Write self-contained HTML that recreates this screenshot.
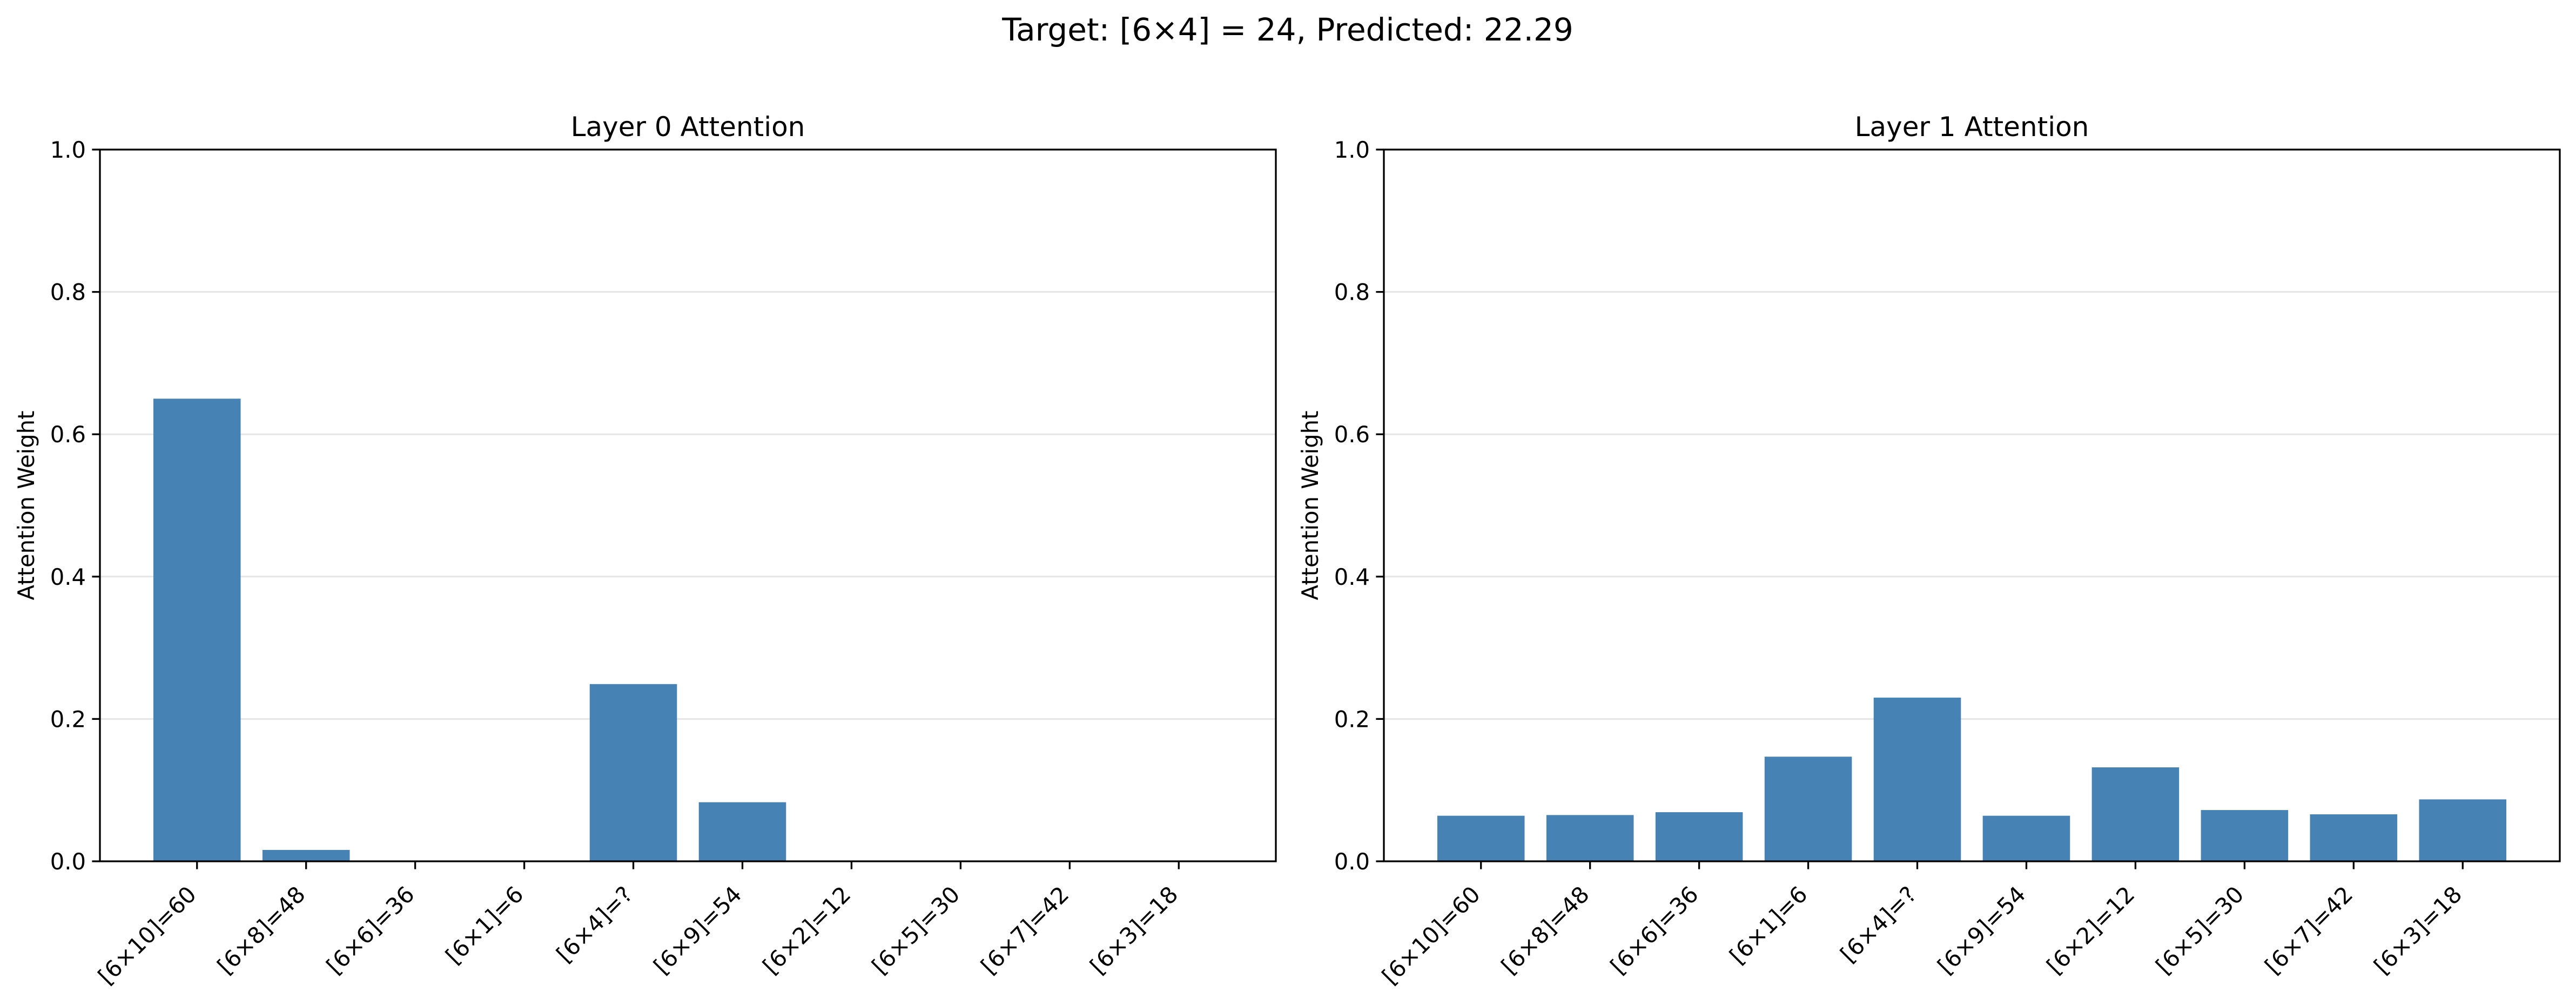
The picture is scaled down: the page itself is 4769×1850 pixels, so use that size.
<!DOCTYPE html>
<html><head><meta charset="utf-8"><style>
html,body{margin:0;padding:0;background:#fff;}
svg{display:block;font-family:"DejaVu Sans","Liberation Sans",sans-serif;}
</style></head><body>
<svg id="fig" width="4769" height="1850" viewBox="0 0 4769 1850" xmlns="http://www.w3.org/2000/svg">
<rect width="4769" height="1850" fill="#fff"/>
<text x="2384" y="75" font-size="58" text-anchor="middle" fill="#000">Target: [6×4] = 24, Predicted: 22.29</text>
</svg>
<script>
const categories = ["[6×10]=60","[6×8]=48","[6×6]=36","[6×1]=6","[6×4]=?","[6×9]=54","[6×2]=12","[6×5]=30","[6×7]=42","[6×3]=18"];
const layer0Values = [0.650, 0.016, 0, 0, 0.249, 0.083, 0, 0, 0, 0];
const layer1Values = [0.064, 0.065, 0.069, 0.147, 0.230, 0.064, 0.132, 0.072, 0.066, 0.087];
const yTicks = [0.0, 0.2, 0.4, 0.6, 0.8, 1.0];
const yTickLabels = ["0.0","0.2","0.4","0.6","0.8","1.0"];
const panelTitles = ["Layer 0 Attention","Layer 1 Attention"];

const NS = "http://www.w3.org/2000/svg";
const svg = document.getElementById('fig');
function mk(tag, attrs, parent){
  const e = document.createElementNS(NS, tag);
  for (const k in attrs) e.setAttribute(k, attrs[k]);
  (parent||svg).appendChild(e);
  return e;
}
function panel(idx, left, right, values){
  const top = 277, bottom = 1595;
  const xmin = -0.89, xmax = 9.89;
  const xs = v => left + (v - xmin) / (xmax - xmin) * (right - left);
  const ys = v => bottom - v * (bottom - top);
  const g = mk('g', {});
  
  
  yTicks.forEach((t, i) => {
    if (i > 0 && i < yTicks.length - 1) {
      const gl = mk('line', {x1:left, x2:right, y1:ys(t), y2:ys(t), stroke:'#e6e6e6', 'stroke-width':3}, g);
      
      
    }
  });
  values.forEach((v, i) => {
    const bw = 0.8;
    const r = mk('rect', {x:xs(i - bw/2), y:ys(v), width:xs(i + bw/2) - xs(i - bw/2), height:bottom - ys(v), fill:'#4682b4'}, g);
    
    
  });
  const sp = mk('rect', {x:left, y:top, width:right-left, height:bottom-top, fill:'none', stroke:'#000', 'stroke-width':3.3}, g);
  
  
  yTicks.forEach((t, i) => {
    mk('line', {x1:left-14.6, x2:left, y1:ys(t), y2:ys(t), stroke:'#000', 'stroke-width':3.3}, g);
    const tl = mk('text', {x:left-26, y:ys(t)+15, 'font-size':41.7, 'text-anchor':'end', fill:'#000'}, g);
    tl.textContent = yTickLabels[i];
    
    
  });
  categories.forEach((c, i) => {
    const x = xs(i);
    mk('line', {x1:x, x2:x, y1:bottom, y2:bottom+14.6, stroke:'#000', 'stroke-width':3.3}, g);
    const ax = x + 1, ay = 1659;
    const tl = mk('text', {x:ax, y:ay, 'font-size':41.7, 'text-anchor':'end', fill:'#000', transform:'rotate(-45 '+ax+' '+ay+')'}, g);
    tl.textContent = c;
    
    
  });
  const yl = mk('text', {x:0, y:0, 'font-size':41.7, 'text-anchor':'middle', fill:'#000', transform:'translate(' + (left-122) + ' ' + ((top+bottom)/2) + ') rotate(-90)'}, g);
  yl.textContent = 'Attention Weight';
  
  
  const ti = mk('text', {x:(left+right)/2, y:252, 'font-size':50, 'text-anchor':'middle', fill:'#000'}, g);
  ti.textContent = panelTitles[idx];
  
  
}
panel(0, 185, 2362, layer0Values);
panel(1, 2562, 4739, layer1Values);
</script>
</body></html>
